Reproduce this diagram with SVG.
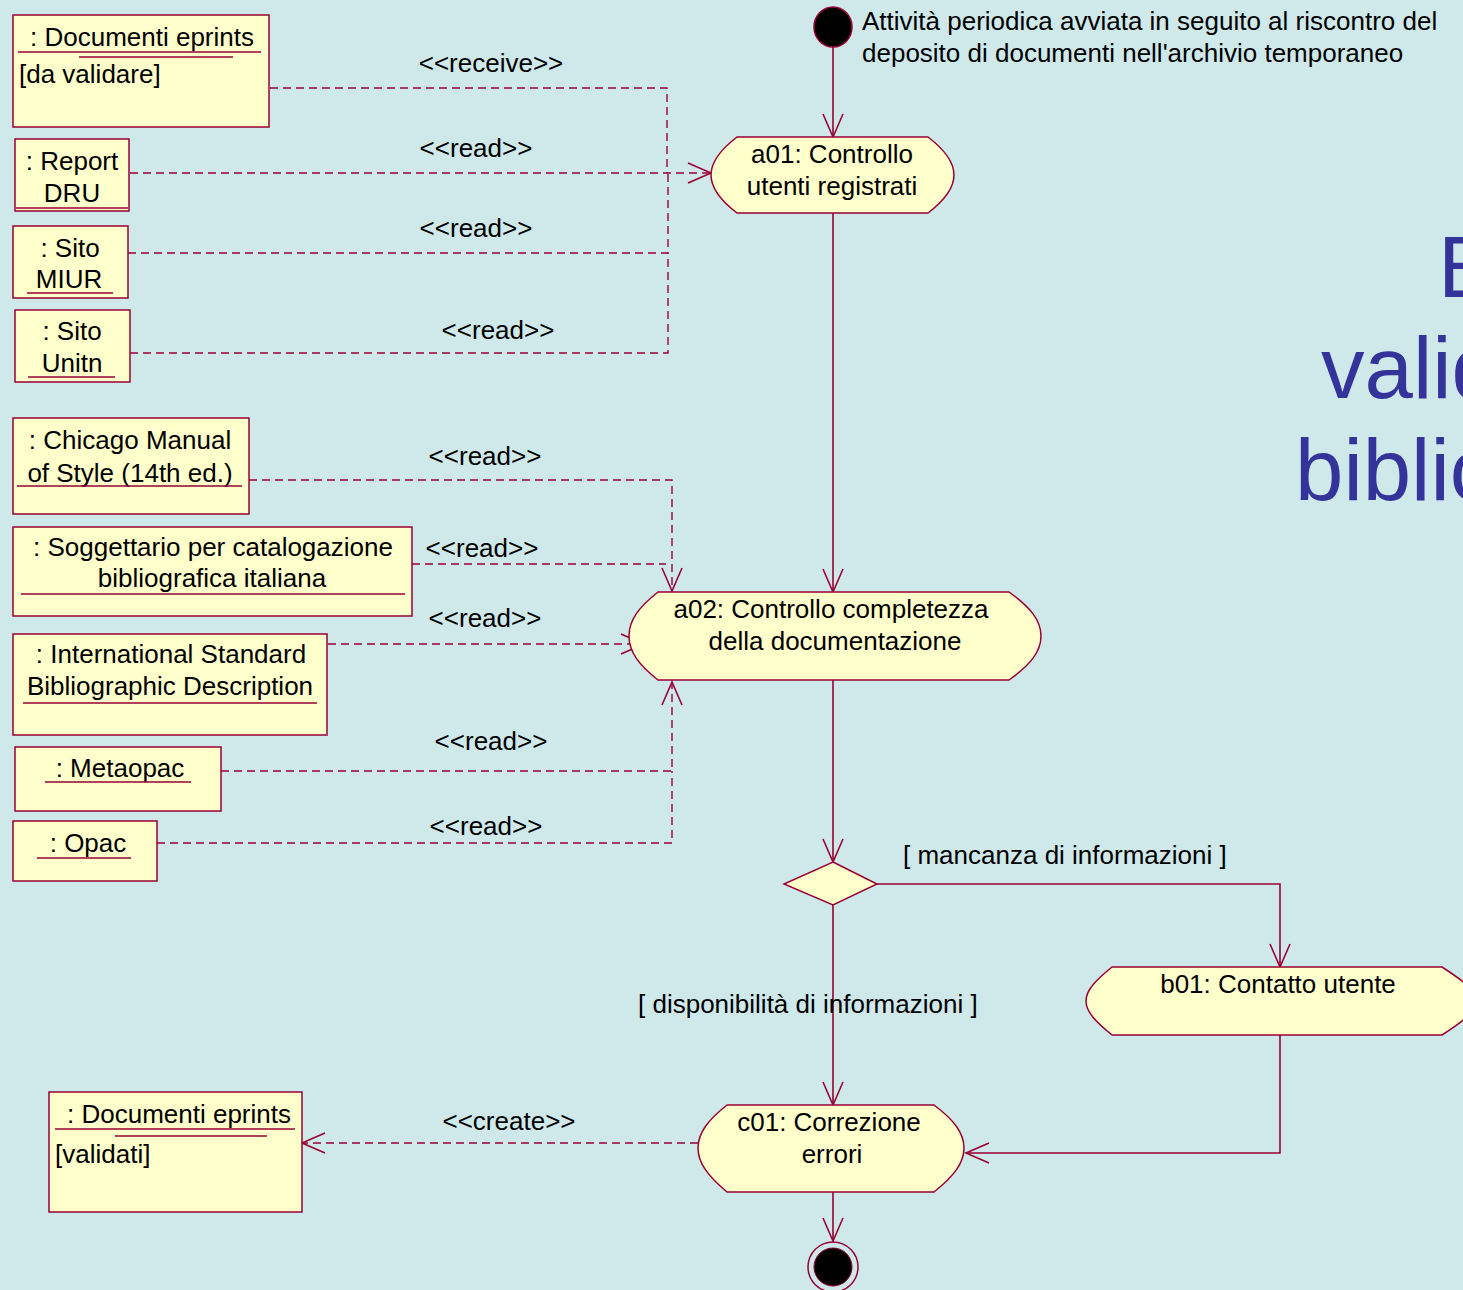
<svg xmlns="http://www.w3.org/2000/svg" width="1463" height="1290" viewBox="0 0 1463 1290">
<style>
.bg{fill:#CFE9EA}
.box{fill:#FFFFCC;stroke:#990033;stroke-width:1.5}
.act{fill:#FFFFCC;stroke:#990033;stroke-width:1.5}
.ul{stroke:#990033;stroke-width:1.5;fill:none}
.t{font-family:"Liberation Sans",Arial,sans-serif;font-size:26px;fill:#000}
.m{text-anchor:middle}
.big{font-family:"Liberation Sans",Arial,sans-serif;font-size:87px;fill:#333399}
.flow{fill:none;stroke:#990033;stroke-width:1.6}
.dep{fill:none;stroke:#990033;stroke-width:1.4;stroke-dasharray:8 5}
</style>
<defs>
<marker id="arr" markerUnits="userSpaceOnUse" markerWidth="30" markerHeight="26" refX="25" refY="12" orient="auto" viewBox="0 0 30 26">
<path d="M2,2 L25,12 L2,22" fill="none" stroke="#990033" stroke-width="1.6" stroke-dasharray="none"/>
</marker>
</defs>
<rect class="bg" x="0" y="0" width="1463" height="1290"/>

<g id="title">
<text class="big" x="1438" y="297">B</text>
<text class="big" x="1321" y="398">valid</text>
<text class="big" x="1295" y="500">biblio</text>
</g>

<g id="connectors">
<path class="flow" d="M833,47 V137" marker-end="url(#arr)"/>
<path class="flow" d="M833,213 V592" marker-end="url(#arr)"/>
<path class="flow" d="M833,680 V862" marker-end="url(#arr)"/>
<path class="flow" d="M877,884 H1280 V967" marker-end="url(#arr)"/>
<path class="flow" d="M833,905 V1105" marker-end="url(#arr)"/>
<path class="flow" d="M1280,1035 V1153 H966" marker-end="url(#arr)"/>
<path class="flow" d="M833,1192 V1241" marker-end="url(#arr)"/>

<path class="dep" d="M270,88 H667 V173"/>
<path class="dep" d="M130,173 H711" marker-end="url(#arr)"/>
<path class="dep" d="M128,253 H668 V173"/>
<path class="dep" d="M130,353 H668 V253"/>

<path class="dep" d="M249,480 H672 V591" marker-end="url(#arr)"/>
<path class="dep" d="M412,564 H666"/>
<path class="dep" d="M328,644 H644" marker-end="url(#arr)"/>
<path class="dep" d="M221,771 H672 V682" marker-end="url(#arr)"/>
<path class="dep" d="M157,843 H672 V771"/>

<path class="dep" d="M698,1143 H302" marker-end="url(#arr)"/>

<text class="t m" x="491" y="72">&lt;&lt;receive&gt;&gt;</text>
<text class="t m" x="476" y="157">&lt;&lt;read&gt;&gt;</text>
<text class="t m" x="476" y="237">&lt;&lt;read&gt;&gt;</text>
<text class="t m" x="498" y="339">&lt;&lt;read&gt;&gt;</text>
<text class="t m" x="485" y="465">&lt;&lt;read&gt;&gt;</text>
<text class="t m" x="482" y="557">&lt;&lt;read&gt;&gt;</text>
<text class="t m" x="485" y="627">&lt;&lt;read&gt;&gt;</text>
<text class="t m" x="491" y="750">&lt;&lt;read&gt;&gt;</text>
<text class="t m" x="486" y="835">&lt;&lt;read&gt;&gt;</text>
<text class="t m" x="509" y="1130">&lt;&lt;create&gt;&gt;</text>
<text class="t" x="903" y="864">[ mancanza di informazioni ]</text>
<text class="t" x="638" y="1013">[ disponibilità di informazioni ]</text>
</g>

<g id="start">
<ellipse cx="833" cy="27" rx="19" ry="20" fill="#000" stroke="#990033" stroke-width="1.5"/>
<text class="t" x="862" y="30">Attività periodica avviata in seguito al riscontro del</text>
<text class="t" x="862" y="62">deposito di documenti nell'archivio temporaneo</text>
</g>

<g id="a01">
<path class="act" d="M737,137 H928 C945,150 954,162 954,175 C954,188 945,200 928,213 H737 C720,200 711,188 711,175 C711,162 720,150 737,137 Z"/>
<text class="t m" x="832" y="163">a01: Controllo</text>
<text class="t m" x="832" y="195">utenti registrati</text>
</g>

<g id="a02">
<path class="act" d="M658,592 H1009 C1030,607 1041,620 1041,636 C1041,652 1030,665 1009,680 H658 C639,665 629,652 629,636 C629,620 639,607 658,592 Z"/>
<text class="t m" x="831" y="618">a02: Controllo completezza</text>
<text class="t m" x="835" y="650">della documentazione</text>
</g>

<g id="decision">
<polygon class="act" points="833,862 877,884 833,905 784,884"/>
</g>

<g id="b01">
<path class="act" d="M1112,967 H1442 C1462,980 1476,990 1476,1001 C1476,1012 1462,1022 1442,1035 H1112 C1096,1022 1086,1012 1086,1001 C1086,990 1096,980 1112,967 Z"/>
<text class="t m" x="1278" y="993">b01: Contatto utente</text>
</g>

<g id="c01">
<path class="act" d="M727,1105 H934 C954,1120 964,1133 964,1148 C964,1163 954,1176 934,1192 H727 C708,1176 698,1163 698,1148 C698,1133 708,1120 727,1105 Z"/>
<text class="t m" x="829" y="1131">c01: Correzione</text>
<text class="t m" x="832" y="1163">errori</text>
</g>

<g id="end">
<circle cx="833" cy="1267" r="25" fill="none" stroke="#990033" stroke-width="1.5"/>
<circle cx="833" cy="1267" r="19" fill="#000" stroke="#990033" stroke-width="1"/>
</g>

<g id="obj-docs-da-validare">
<rect class="box" x="13" y="15" width="256" height="112"/>
<text class="t m" x="142" y="46">: Documenti eprints</text>
<line class="ul" x1="18" y1="52" x2="261" y2="52"/>
<line class="ul" x1="79" y1="57" x2="233" y2="57"/>
<text class="t" x="19" y="83">[da validare]</text>
</g>

<g id="obj-report-dru">
<rect class="box" x="15" y="139" width="114" height="72"/>
<text class="t m" x="72" y="170">: Report</text>
<text class="t m" x="72" y="202">DRU</text>
<line class="ul" x1="16" y1="208" x2="128" y2="208"/>
</g>

<g id="obj-sito-miur">
<rect class="box" x="13" y="226" width="115" height="72"/>
<text class="t m" x="70" y="257">: Sito</text>
<text class="t m" x="69" y="288">MIUR</text>
<line class="ul" x1="27" y1="293" x2="113" y2="293"/>
</g>

<g id="obj-sito-unitn">
<rect class="box" x="15" y="310" width="115" height="72"/>
<text class="t m" x="72" y="340">: Sito</text>
<text class="t m" x="72" y="372">Unitn</text>
<line class="ul" x1="28" y1="377" x2="115" y2="377"/>
</g>

<g id="obj-chicago">
<rect class="box" x="13" y="418" width="236" height="96"/>
<text class="t m" x="130" y="449">: Chicago Manual</text>
<text class="t m" x="130" y="482">of Style (14th ed.)</text>
<line class="ul" x1="17" y1="486" x2="242" y2="486"/>
</g>

<g id="obj-soggettario">
<rect class="box" x="13" y="527" width="399" height="89"/>
<text class="t m" x="213" y="556">: Soggettario per catalogazione</text>
<text class="t m" x="212" y="587">bibliografica italiana</text>
<line class="ul" x1="21" y1="594" x2="405" y2="594"/>
</g>

<g id="obj-isbd">
<rect class="box" x="13" y="634" width="314" height="101"/>
<text class="t m" x="171" y="663">: International Standard</text>
<text class="t m" x="170" y="695">Bibliographic Description</text>
<line class="ul" x1="23" y1="703" x2="317" y2="703"/>
</g>

<g id="obj-metaopac">
<rect class="box" x="15" y="747" width="206" height="64"/>
<text class="t m" x="120" y="777">: Metaopac</text>
<line class="ul" x1="45" y1="782" x2="191" y2="782"/>
</g>

<g id="obj-opac">
<rect class="box" x="13" y="821" width="144" height="60"/>
<text class="t m" x="88" y="852">: Opac</text>
<line class="ul" x1="37" y1="858" x2="131" y2="858"/>
</g>

<g id="obj-docs-validati">
<rect class="box" x="49" y="1092" width="253" height="120"/>
<text class="t m" x="179" y="1123">: Documenti eprints</text>
<line class="ul" x1="55" y1="1129" x2="295" y2="1129"/>
<line class="ul" x1="115" y1="1136" x2="267" y2="1136"/>
<text class="t" x="55" y="1163">[validati]</text>
</g>
</svg>
